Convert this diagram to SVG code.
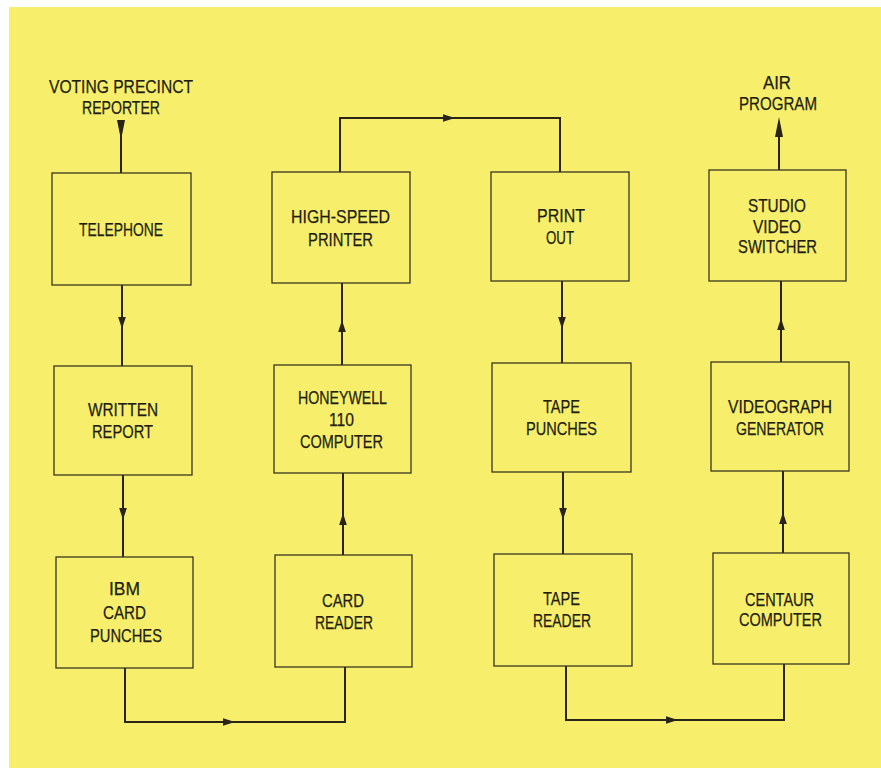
<svg xmlns="http://www.w3.org/2000/svg" xmlns:xlink="http://www.w3.org/1999/xlink" width="881" height="775" viewBox="0 0 881 775">
<style>
.bg{fill:#f7ef6c}
.box{fill:#f7ef6c;stroke:#3a3520;stroke-width:1.3}
.ln{fill:none;stroke:#2a2418;stroke-width:2}
.ah{fill:#2a2418}
text{font-family:"Liberation Sans",Arial,sans-serif;font-size:19px;fill:#221d12;stroke:#221d12;stroke-width:0.25;text-anchor:middle}
</style>
<defs>
<path id="ah" d="M0,0 L-12,-3.8 L-12,3.8 Z"/>
<path id="ahl" d="M0,0 L-20,-4 L-20,4 Z"/>
</defs>
<rect x="0" y="0" width="881" height="775" fill="#ffffff"/>
<rect class="bg" x="9" y="7" width="872" height="761"/>

<g id="connectors">
<path class="ln" d="M121,120 V173"/>
<use class="ah" xlink:href="#ahl" transform="translate(121,140) rotate(90)"/>
<path class="ln" d="M122,285 V366"/>
<use class="ah" xlink:href="#ah" transform="translate(122,329) rotate(90)"/>
<path class="ln" d="M123,475 V557"/>
<use class="ah" xlink:href="#ah" transform="translate(123,520) rotate(90)"/>
<path class="ln" d="M125,668 V722 H345 V667"/>
<use class="ah" xlink:href="#ah" transform="translate(235,722)"/>
<path class="ln" d="M343,555 V473"/>
<use class="ah" xlink:href="#ah" transform="translate(343,513) rotate(-90)"/>
<path class="ln" d="M342,365 V283"/>
<use class="ah" xlink:href="#ah" transform="translate(342,320) rotate(-90)"/>
<path class="ln" d="M340,172 V118 H560 V172"/>
<use class="ah" xlink:href="#ah" transform="translate(455,118)"/>
<path class="ln" d="M562,281 V363"/>
<use class="ah" xlink:href="#ah" transform="translate(562,329) rotate(90)"/>
<path class="ln" d="M563,472 V554"/>
<use class="ah" xlink:href="#ah" transform="translate(563,520) rotate(90)"/>
<path class="ln" d="M566,666 V720 H784 V664"/>
<use class="ah" xlink:href="#ah" transform="translate(678,720)"/>
<path class="ln" d="M783,553 V471"/>
<use class="ah" xlink:href="#ah" transform="translate(783,512) rotate(-90)"/>
<path class="ln" d="M781,362 V281"/>
<use class="ah" xlink:href="#ah" transform="translate(781,318) rotate(-90)"/>
<path class="ln" d="M779,170 V130"/>
<use class="ah" xlink:href="#ahl" transform="translate(779,117) rotate(-90)"/>
</g>

<g id="label-voting">
<text x="121" y="93" textLength="144" lengthAdjust="spacingAndGlyphs">VOTING PRECINCT</text>
<text x="121" y="114" textLength="78" lengthAdjust="spacingAndGlyphs">REPORTER</text>
</g>
<g id="label-air">
<text x="777" y="89" textLength="28" lengthAdjust="spacingAndGlyphs">AIR</text>
<text x="778" y="110" textLength="78" lengthAdjust="spacingAndGlyphs">PROGRAM</text>
</g>

<g id="telephone">
<rect class="box" x="52" y="173" width="139" height="112"/>
<text x="121" y="236" textLength="84" lengthAdjust="spacingAndGlyphs">TELEPHONE</text>
</g>
<g id="written-report">
<rect class="box" x="54" y="366" width="138" height="109"/>
<text x="123" y="416" textLength="70" lengthAdjust="spacingAndGlyphs">WRITTEN</text>
<text x="122.5" y="438" textLength="61" lengthAdjust="spacingAndGlyphs">REPORT</text>
</g>
<g id="ibm-card-punches">
<rect class="box" x="56" y="557" width="137" height="111"/>
<text x="124.5" y="595" textLength="31" lengthAdjust="spacingAndGlyphs">IBM</text>
<text x="124.5" y="619" textLength="43" lengthAdjust="spacingAndGlyphs">CARD</text>
<text x="126" y="642" textLength="72" lengthAdjust="spacingAndGlyphs">PUNCHES</text>
</g>

<g id="high-speed-printer">
<rect class="box" x="272" y="172" width="138" height="111"/>
<text x="340.5" y="223" textLength="99" lengthAdjust="spacingAndGlyphs">HIGH-SPEED</text>
<text x="340.5" y="246" textLength="65" lengthAdjust="spacingAndGlyphs">PRINTER</text>
</g>
<g id="honeywell">
<rect class="box" x="274" y="365" width="137" height="108"/>
<text x="342.5" y="404" textLength="89" lengthAdjust="spacingAndGlyphs">HONEYWELL</text>
<text x="341.5" y="426" textLength="25" lengthAdjust="spacingAndGlyphs">110</text>
<text x="341.5" y="448" textLength="83" lengthAdjust="spacingAndGlyphs">COMPUTER</text>
</g>
<g id="card-reader">
<rect class="box" x="275" y="555" width="137" height="112"/>
<text x="343" y="607" textLength="42" lengthAdjust="spacingAndGlyphs">CARD</text>
<text x="344" y="629" textLength="58" lengthAdjust="spacingAndGlyphs">READER</text>
</g>

<g id="print-out">
<rect class="box" x="491" y="172" width="138" height="109"/>
<text x="561" y="222" textLength="48" lengthAdjust="spacingAndGlyphs">PRINT</text>
<text x="560" y="244" textLength="28" lengthAdjust="spacingAndGlyphs">OUT</text>
</g>
<g id="tape-punches">
<rect class="box" x="492" y="363" width="139" height="109"/>
<text x="561.5" y="413" textLength="37" lengthAdjust="spacingAndGlyphs">TAPE</text>
<text x="561.5" y="435" textLength="71" lengthAdjust="spacingAndGlyphs">PUNCHES</text>
</g>
<g id="tape-reader">
<rect class="box" x="494" y="554" width="138" height="112"/>
<text x="561.5" y="605" textLength="37" lengthAdjust="spacingAndGlyphs">TAPE</text>
<text x="562" y="627" textLength="58" lengthAdjust="spacingAndGlyphs">READER</text>
</g>

<g id="studio-video-switcher">
<rect class="box" x="709" y="170" width="137" height="111"/>
<text x="777" y="212" textLength="58" lengthAdjust="spacingAndGlyphs">STUDIO</text>
<text x="777" y="233" textLength="48" lengthAdjust="spacingAndGlyphs">VIDEO</text>
<text x="777.5" y="253" textLength="79" lengthAdjust="spacingAndGlyphs">SWITCHER</text>
</g>
<g id="videograph-generator">
<rect class="box" x="711" y="362" width="138" height="109"/>
<text x="780" y="413" textLength="104" lengthAdjust="spacingAndGlyphs">VIDEOGRAPH</text>
<text x="780" y="435" textLength="88" lengthAdjust="spacingAndGlyphs">GENERATOR</text>
</g>
<g id="centaur-computer">
<rect class="box" x="713" y="553" width="136" height="111"/>
<text x="779.5" y="606" textLength="69" lengthAdjust="spacingAndGlyphs">CENTAUR</text>
<text x="780.5" y="626" textLength="83" lengthAdjust="spacingAndGlyphs">COMPUTER</text>
</g>
</svg>
